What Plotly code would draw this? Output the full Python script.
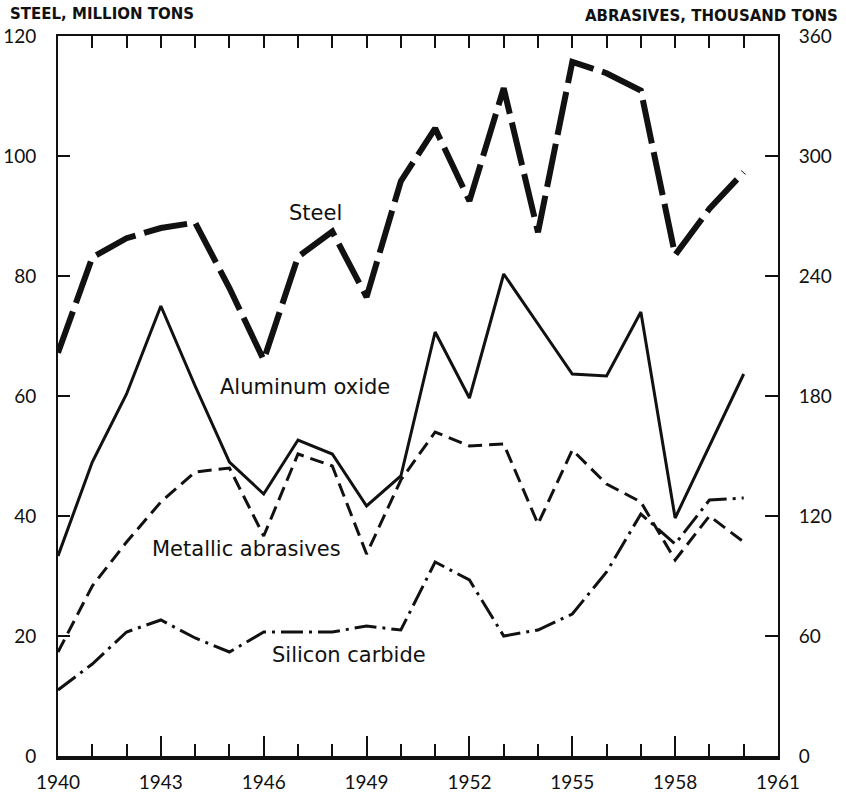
import plotly.graph_objects as go

years = list(range(1940, 1961))

# Steel, million tons (left axis)
steel = [67.2, 83.1, 86.3, 88.0, 88.9, 78.0, 66.0, 83.2, 87.4, 76.5, 95.8,
         104.6, 92.5, 111.3, 87.3, 115.7, 113.8, 110.9, 83.5, 91.2, 97.3]

# Abrasives, thousand tons (right axis)
aluminum_oxide = [100, 147, 181, 225, 185, 147, 131, 158, 151, 125, 140,
                  212, 179, 241, 216, 191, 190, 222, 119, 155, 191]
metallic_abrasives = [52, 85, 107, 127, 142, 144, 110, 151, 145, 101, 138,
                      162, 155, 156, 116, 153, 136, 127, 98, 120, 107]
silicon_carbide = [33, 46, 62, 68, 59, 52, 62, 62, 62, 65, 63,
                   97, 88, 60, 63, 71, 92, 121, 106, 128, 129]

x_ticks = [1940, 1943, 1946, 1949, 1952, 1955, 1958, 1961]
left_ticks = [0, 20, 40, 60, 80, 100, 120]
right_ticks = [0, 60, 120, 180, 240, 300, 360]

TICK_FONT = "Lato"
TEXT_FONT = "DejaVu Sans"
INK = "#111111"

W, H = 846, 797
ML, MR, MT, MB = 58, 68, 36, 41

fig = go.Figure()

fig.add_trace(go.Scatter(x=years, y=steel, mode="lines", yaxis="y",
                         line=dict(color=INK, width=6, dash="44px,9px"),
                         showlegend=False))
fig.add_trace(go.Scatter(x=years, y=aluminum_oxide, mode="lines", yaxis="y2",
                         line=dict(color=INK, width=3), showlegend=False))
fig.add_trace(go.Scatter(x=years, y=metallic_abrasives, mode="lines", yaxis="y2",
                         line=dict(color=INK, width=3, dash="14px,7px"),
                         showlegend=False))
fig.add_trace(go.Scatter(x=years, y=silicon_carbide, mode="lines", yaxis="y2",
                         line=dict(color=INK, width=3, dash="22px,6px,3px,6px"),
                         showlegend=False))
# invisible carrier for the top tick axis
fig.add_trace(go.Scatter(x=years, y=steel, mode="lines", xaxis="x2", yaxis="y",
                         line=dict(color="rgba(0,0,0,0)", width=0),
                         hoverinfo="skip", showlegend=False))

tickfont = dict(family=TICK_FONT, size=19, color=INK)

fig.update_layout(
    width=W, height=H,
    margin=dict(l=ML, r=MR, t=MT, b=MB),
    paper_bgcolor="white", plot_bgcolor="white",
    xaxis=dict(range=[1940, 1961], tickmode="array", tickvals=x_ticks,
               ticktext=[str(v) for v in x_ticks],
               ticks="inside", ticklen=20, tickwidth=1.5, tickcolor=INK,
               minor=dict(dtick=1, tick0=1940, ticks="inside", ticklen=12,
                          tickwidth=1.5, tickcolor=INK, showgrid=False),
               showline=True, linewidth=4, linecolor=INK,
               showgrid=False, zeroline=False, tickfont=tickfont,
               ticklabelstandoff=6, automargin=False),
    xaxis2=dict(range=[1940, 1961], overlaying="x", side="top",
                tickmode="linear", tick0=1940, dtick=1,
                ticks="inside", ticklen=12, tickwidth=1.5, tickcolor=INK,
                showticklabels=False, showline=True, linewidth=1.5,
                linecolor=INK, showgrid=False, zeroline=False,
                automargin=False),
    yaxis=dict(range=[0, 120], tickmode="array", tickvals=left_ticks,
               ticks="inside", ticklen=12, tickwidth=1.5, tickcolor=INK,
               showline=True, linewidth=2, linecolor=INK,
               showgrid=False, zeroline=False, tickfont=tickfont,
               ticklabelstandoff=16, automargin=False),
    yaxis2=dict(range=[0, 360], overlaying="y", side="right",
                tickmode="array", tickvals=right_ticks,
                ticks="inside", ticklen=13, tickwidth=1.5, tickcolor=INK,
                showline=True, linewidth=2, linecolor=INK,
                showgrid=False, zeroline=False, tickfont=tickfont,
                ticklabelstandoff=15, automargin=False),
)

label_font = dict(family=TEXT_FONT, size=21, color=INK)
fig.add_annotation(x=1947.5, y=90.5, xref="x", yref="y", text="Steel",
                   showarrow=False, font=label_font)
fig.add_annotation(x=1947.2, y=61.5, xref="x", yref="y", text="Aluminum oxide",
                   showarrow=False, font=label_font)
fig.add_annotation(x=1945.5, y=34.5, xref="x", yref="y", text="Metallic abrasives",
                   showarrow=False, font=label_font)
fig.add_annotation(x=1948.5, y=16.8, xref="x", yref="y", text="Silicon carbide",
                   showarrow=False, font=label_font)

pw = W - ML - MR
ph = H - MT - MB


def px_to_paper(px, py):
    return (px - ML) / pw, (H - MB - py) / ph


title_font = dict(family=TEXT_FONT, size=15, color=INK, weight="bold")
tx, ty = px_to_paper(8, 14)
fig.add_annotation(x=tx, y=ty, xref="paper", yref="paper",
                   text="STEEL, MILLION TONS", showarrow=False,
                   xanchor="left", yanchor="middle", font=title_font)
tx, ty = px_to_paper(840, 16)
fig.add_annotation(x=tx, y=ty, xref="paper", yref="paper",
                   text="ABRASIVES, THOUSAND TONS", showarrow=False,
                   xanchor="right", yanchor="middle", font=title_font)

fig.write_html("out.html")
